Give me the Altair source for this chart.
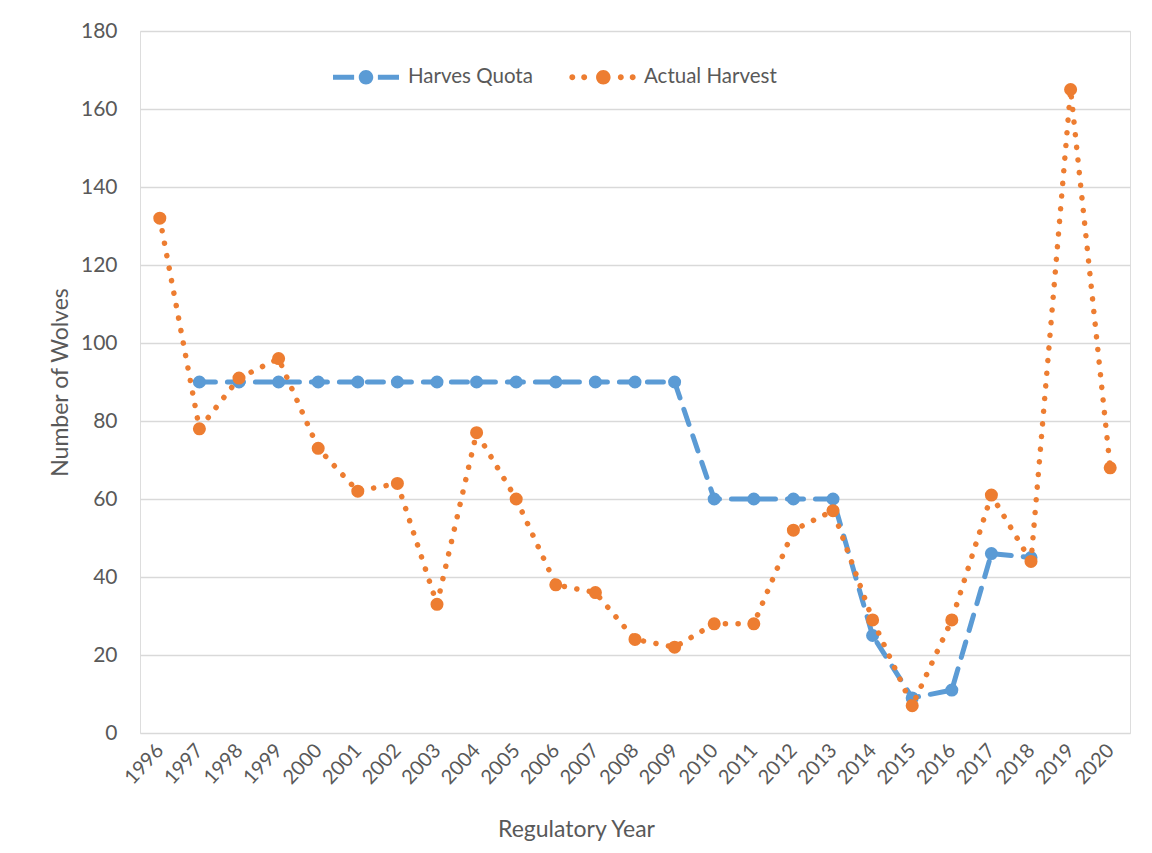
import altair as alt
import pandas as pd

years = ["1996", "1997", "1998", "1999", "2000", "2001", "2002", "2003", "2004",
         "2005", "2006", "2007", "2008", "2009", "2010", "2011", "2012", "2013",
         "2014", "2015", "2016", "2017", "2018", "2019", "2020"]
quota = [None, 90, 90, 90, 90, 90, 90, 90, 90, 90, 90, 90, 90, 90,
         60, 60, 60, 60, 25, 9, 11, 46, 45, None, None]
harvest = [132, 78, 91, 96, 73, 62, 64, 33, 77, 60, 38, 36, 24, 22,
           28, 28, 52, 57, 29, 7, 29, 61, 44, 165, 68]
series_names = ["Harves Quota", "Actual Harvest"]
series_colors = ["#5B9BD5", "#ED7D31"]
y_ticks = [0, 20, 40, 60, 80, 100, 120, 140, 160, 180]

df_q = pd.DataFrame({"year": years, "value": quota, "series": series_names[0]}).dropna()
df_h = pd.DataFrame({"year": years, "value": harvest, "series": series_names[1]})
df_all = pd.concat([df_q, df_h], ignore_index=True)

FONT = "Lato"
GREY = "#595959"

def circ(cx, r):
    return (f"M{cx + r},0A{r},{r},0,1,1,{cx - r},0A{r},{r},0,1,1,{cx + r},0Z")

blue_sym = ("M-1,-0.075L-0.36,-0.075L-0.36,0.075L-1,0.075Z "
            "M0.36,-0.075L1,-0.075L1,0.075L0.36,0.075Z " + circ(0, 0.22))
orange_sym = " ".join([circ(-0.9, 0.09), circ(-0.54, 0.09), circ(0.04, 0.22),
                       circ(0.57, 0.09), circ(0.93, 0.09)])

x_enc = alt.X(
    "year:O",
    scale=alt.Scale(domain=years),
    axis=alt.Axis(
        title="Regulatory Year",
        labelAngle=313, labelAlign="right", labelBaseline="middle",
        labelFontSize=20, labelColor=GREY, labelFont=FONT, labelPadding=14,
        ticks=False, tickSize=0, domain=False, grid=False,
        titleFontSize=23, titleColor=GREY, titleFont=FONT, titleFontWeight="normal",
        titleX=436, titleY=96, titleAlign="center", titleBaseline="middle",
    ),
)
y_enc = alt.Y(
    "value:Q",
    scale=alt.Scale(domain=[0, 180], nice=False),
    axis=alt.Axis(
        title="Number of Wolves", values=y_ticks,
        labelFontSize=21, labelColor=GREY, labelFont=FONT, labelPadding=23,
        ticks=False, tickSize=0, domain=False,
        grid=True, gridColor="#D9D9D9", gridWidth=1.5,
        titleFontSize=23, titleColor=GREY, titleFont=FONT, titleFontWeight="normal",
        titleX=-80, titleY=351, titleAngle=270, titleAlign="center", titleBaseline="middle",
    ),
)

q_line = alt.Chart(df_q).mark_line(
    color=series_colors[0], strokeWidth=5, strokeDash=[16, 12], strokeCap="round"
).encode(x=x_enc, y=y_enc)
q_pts = alt.Chart(df_q).mark_circle(
    color=series_colors[0], size=170, opacity=1
).encode(x=x_enc, y=y_enc)
h_line = alt.Chart(df_h).mark_line(
    color=series_colors[1], strokeWidth=5.5, strokeDash=[0.1, 12.6], strokeCap="round"
).encode(x=x_enc, y=y_enc)
h_pts = alt.Chart(df_h).mark_circle(
    color=series_colors[1], size=170, opacity=1
).encode(x=x_enc, y=y_enc)

legend_layer = alt.Chart(df_all).transform_filter("datum.value < -1000").mark_point(
    filled=True, size=4356, opacity=1
).encode(
    x=x_enc, y=y_enc,
    color=alt.Color("series:N", scale=alt.Scale(domain=series_names, range=series_colors),
                    legend=alt.Legend(
                        title=None, orient="none", legendX=193, legendY=13,
                        direction="horizontal", symbolSize=4356, symbolStrokeWidth=0,
                        symbolOpacity=1,
                        labelFontSize=20.5, labelColor=GREY, labelFont=FONT,
                        labelOffset=9, columnPadding=36, padding=0,
                    )),
    shape=alt.Shape("series:N", scale=alt.Scale(domain=series_names, range=[blue_sym, orange_sym])),
)

chart = alt.layer(q_line, q_pts, h_line, h_pts, legend_layer).properties(
    width=990, height=702,
    padding={"left": 132, "top": 23, "right": 12, "bottom": 112},
    autosize=alt.AutoSizeParams(type="none"),
).configure_view(stroke=None).configure(font=FONT)

chart.save("out.html", embed_options={"renderer": "svg", "actions": False})
